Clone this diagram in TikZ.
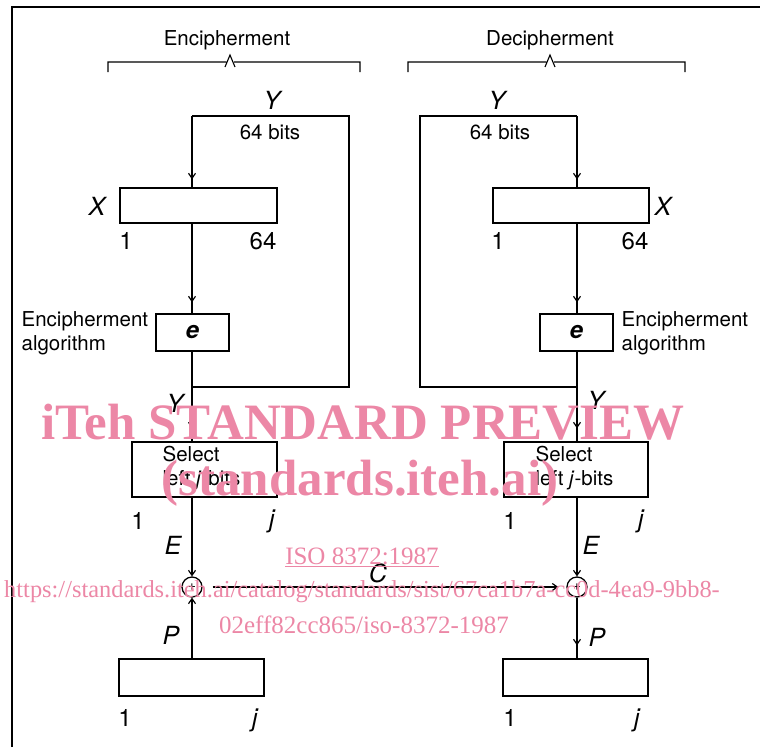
\documentclass[tikz,border=0pt]{standalone}
\usepackage{fontspec}
\setmainfont{TeX Gyre Heros}
\newfontfamily\wmfont{Liberation Serif}
\usetikzlibrary{decorations.markings,arrows.meta}
\definecolor{wmpink}{RGB}{236,135,166}
\begin{document}
\begin{tikzpicture}[x=1pt,y=-1pt,
  line width=1.3pt,
  box/.style={draw, rectangle, inner sep=0pt, line width=1.4pt},
  txt/.style={font=\fontsize{20.5}{24}\selectfont, inner sep=0pt, align=left},
  var/.style={font=\fontsize{25}{25}\selectfont\itshape, inner sep=0pt},
  num/.style={font=\fontsize{24}{24}\selectfont, inner sep=0pt},
  xorc/.style={draw, circle, minimum size=20pt, inner sep=0pt, line width=1.3pt, font=\fontsize{14}{14}\selectfont},
  arrowmid/.style={decoration={markings, mark=at position -#1 with {\arrow{Straight Barb[length=5pt,width=7pt,line width=1.2pt]}}}, postaction={decorate}},
  arrowend/.style={-{Straight Barb[length=5pt,width=7pt,line width=1.2pt]}},
  brace/.style={line width=1.1pt},
  wm/.style={text=wmpink, inner sep=0pt}
]
\useasboundingbox (0,0) rectangle (760,747);

% frame
\draw[line width=2pt] (12,747) -- (12,7) -- (760,7);

% ---------- titles and braces ----------
\node[txt] (tenc) at (227,40) {Encipherment};
\node[txt] (tdec) at (550,40) {Decipherment};
\draw[brace] (108,72) -- (108,62) -- (226,62) (225,67) -- (230,55) -- (235,67) (234,62) -- (360,62) -- (360,72);
\draw[brace] (408,72) -- (408,62) -- (546,62) (545,67) -- (550,55) -- (555,67) (554,62) -- (685,62) -- (685,72);

% ---------- left (encipherment) ----------
\coordinate (ltl) at (192,116);
\coordinate (ltr) at (349,116);
\coordinate (lbr) at (349,387);
\coordinate (lbj) at (192,387);
\node[box, minimum width=157pt, minimum height=35pt] (bx1) at (198.5,205.5) {};
\node[box, minimum width=73pt, minimum height=37pt, font=\fontsize{24}{24}\selectfont\bfseries\itshape] (e1) at (192.5,332.5) {e};
\node[box, minimum width=145pt, minimum height=55pt] (sel1) at (204.5,469.5) {};
\node[xorc] (xor1) at (192,587) {+};
\node[box, minimum width=145pt, minimum height=37pt] (out1) at (191.5,677.5) {};

\draw (lbj) -- (lbr) -- (ltr) -- (ltl);
\draw[arrowmid=8pt] (ltl) -- (ltl |- bx1.north);
\draw[arrowmid=11pt] (ltl |- bx1.south) -- (ltl |- e1.north);
\draw[arrowmid=13pt] (ltl |- e1.south) -- (ltl |- sel1.north);
\draw[arrowend] (ltl |- sel1.south) -- (xor1.north);
\draw[arrowend] (out1.north -| xor1) -- (xor1.south);

\node[var] (ly1) at (272,100) {Y};
\node[txt] (lb64) at (270,132) {64 bits};
\node[var] (lx) at (97,206) {X};
\node[num] (l1a) at (126,241) {1};
\node[num] (l64) at (263,241) {64};
\node[txt, anchor=west] (lalg) at (21,333) {Encipherment\\algorithm};
\node[var] (ly2) at (175,403) {Y};
\node[txt, anchor=west] (lsel) at (162,468.5) {Select\\left \textit{j}-bits};
\node[num] (l1b) at (138,521) {1};
\node[var] (ljb) at (272,521) {j};
\node[var] (le) at (173,545) {E};
\node[var] (lp) at (171,635) {P};
\node[num] (l1c) at (125,718) {1};
\node[var] (ljc) at (255,720) {j};

% ---------- right (decipherment) ----------
\coordinate (rtl) at (420,116);
\coordinate (rtr) at (577,116);
\coordinate (rbl) at (420,387);
\coordinate (rbj) at (577,387);
\node[box, minimum width=156pt, minimum height=35pt] (bx2) at (571,205.5) {};
\node[box, minimum width=73pt, minimum height=37pt, font=\fontsize{24}{24}\selectfont\bfseries\itshape] (e2) at (576.5,332.5) {e};
\node[box, minimum width=144pt, minimum height=55pt] (sel2) at (576,469.5) {};
\node[xorc] (xor2) at (577,587) {+};
\node[box, minimum width=145pt, minimum height=37pt] (out2) at (575.5,677.5) {};

\draw (rbj) -- (rbl) -- (rtl) -- (rtr);
\draw[arrowmid=8pt] (rtr) -- (rtr |- bx2.north);
\draw[arrowmid=11pt] (rtr |- bx2.south) -- (rtr |- e2.north);
\draw[arrowmid=13pt] (rtr |- e2.south) -- (rtr |- sel2.north);
\draw[arrowend] (rtr |- sel2.south) -- (xor2.north);
\draw[arrowmid=13pt] (xor2.south) -- (xor2 |- out2.north);

\draw[arrowend, shorten <=10pt, shorten >=8pt] (xor1.east) -- (xor2.west);
\node[var] (lc) at (378,573) {C};

\node[var] (ry1) at (497,100) {Y};
\node[txt] (rb64) at (500,132) {64 bits};
\node[var] (rx) at (663,206) {X};
\node[num] (r1a) at (498,241) {1};
\node[num] (r64) at (635,241) {64};
\node[txt, anchor=west] (ralg) at (621,333) {Encipherment\\algorithm};
\node[var] (ry2) at (596,400) {Y};
\node[txt, anchor=west] (rsel) at (535,468.5) {Select\\left \textit{j}-bits};
\node[num] (r1b) at (510,521) {1};
\node[var] (rjb) at (641,521) {j};
\node[var] (re) at (591,545) {E};
\node[var] (rp) at (597,637) {P};
\node[num] (r1c) at (510,718) {1};
\node[var] (rjc) at (637,720) {j};

% ---------- watermark ----------
\node[wm, font=\wmfont\bfseries\fontsize{51}{51}\selectfont] (wm1) at (363,422) {iTeh STANDARD PREVIEW};
\node[wm, font=\wmfont\bfseries\fontsize{51}{51}\selectfont] (wm2) at (360,483) {(standards.iteh.ai)};
\node[wm, font=\wmfont\fontsize{25}{25}\selectfont] (wm3) at (362,557) {\underline{ISO 8372:1987}};
\node[wm, font=\wmfont\fontsize{24.4}{25}\selectfont] (wm4) at (362,592) {https://standards.iteh.ai/catalog/standards/sist/67ca1b7a-cc0d-4ea9-9bb8-};
\node[wm, font=\wmfont\fontsize{25}{25}\selectfont] (wm5) at (364,625) {02eff82cc865/iso-8372-1987};
\end{tikzpicture}
\end{document}
